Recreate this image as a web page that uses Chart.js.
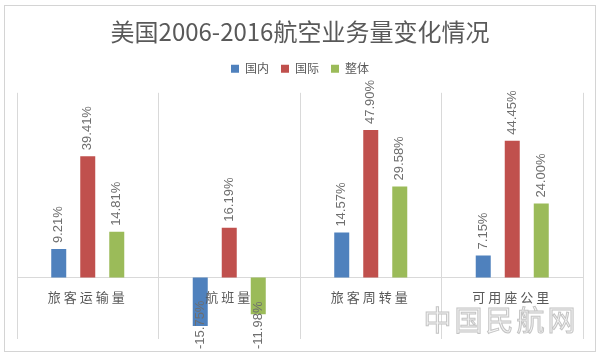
<!DOCTYPE html>
<html><head><meta charset="utf-8">
<script src="https://cdn.jsdelivr.net/npm/chart.js@4"></script>
<style>html,body{margin:0;padding:0;background:#fff}</style>
</head><body>
<canvas id="c" width="600" height="357" style="display:block;width:600px;height:357px"></canvas>
<script>
const TITLE = '美国2006-2016航空业务量变化情况';
const categories = ['旅客运输量', '航班量', '旅客周转量', '可用座公里'];
const seriesNames = ['国内', '国际', '整体'];
const domestic = [9.21, -15.75, 14.57, 7.15];
const international = [39.41, 16.19, 47.90, 44.45];
const overall = [14.81, -11.98, 29.58, 24.00];
const seriesColors = ['#4F81BD', '#C0504D', '#9BBB59'];
const WATERMARK = '中国民航网';

const seriesValues = [domestic, international, overall];

const helper = {
  id: 'helper',
  beforeDraw(chart) {
    const c = chart.ctx;
    c.save();
    c.fillStyle = '#ffffff';
    c.fillRect(0, 0, chart.width, chart.height);
    c.strokeStyle = '#d4d4d4';
    c.lineWidth = 1;
    c.strokeRect(4.5, 5.5, 591, 346);
    c.restore();
  },
  afterLayout(chart) {
    chart.legend.top -= 8;
    chart.legend.bottom -= 8;
  },
  afterDatasetsDraw(chart) {
    const c = chart.ctx;
    chart.data.datasets.forEach((ds, di) => {
      const meta = chart.getDatasetMeta(di);
      meta.data.forEach((bar, i) => {
        const v = ds.data[i];
        const txt = v.toFixed(2) + '%';
        c.save();
        c.font = '13px "Liberation Sans", Arial, sans-serif';
        c.fillStyle = '#6e6e6e';
        c.textBaseline = 'middle';
        c.textAlign = 'left';
        let y0;
        if (v >= 0) {
          y0 = bar.y - 6;
        } else {
          const w = c.measureText(txt).width;
          y0 = Math.min(bar.y + 6 + w, 349);
        }
        c.translate(bar.x, y0);
        c.rotate(-Math.PI / 2);
        c.fillText(txt, 0, 0);
        c.restore();
      });
    });
    c.letterSpacing = '3px';
  },
  afterDraw(chart) {
    const c = chart.ctx;
    c.letterSpacing = '0px';
    c.save();
    c.letterSpacing = '3px';
    c.font = '28px "Noto Sans CJK SC", sans-serif';
    c.textAlign = 'center';
    c.textBaseline = 'middle';
    c.fillStyle = 'rgba(244,244,244,0.9)';
    c.strokeStyle = '#c4c4c4';
    c.lineWidth = 1;
    c.fillText(WATERMARK, 501, 320);
    c.strokeText(WATERMARK, 501, 320);
    c.restore();
  }
};

new Chart(document.getElementById('c'), {
  type: 'bar',
  data: {
    labels: categories,
    datasets: seriesNames.map((name, k) => ({
      label: name,
      data: seriesValues[k],
      backgroundColor: seriesColors[k],
      borderWidth: 0,
      categoryPercentage: 0.615,
      barPercentage: 0.517
    }))
  },
  options: {
    responsive: false,
    animation: false,
    devicePixelRatio: 1,
    layout: { padding: { left: 17, right: 17, top: 0, bottom: 18 } },
    plugins: {
      title: {
        display: true,
        text: TITLE,
        color: '#595959',
        font: { size: 24, family: "'Noto Sans CJK SC', sans-serif", weight: 'normal', lineHeight: 1.2 },
        padding: { top: 17, bottom: 13 }
      },
      legend: {
        display: true,
        position: 'top',
        labels: {
          boxWidth: 8,
          boxHeight: 8,
          padding: 12,
          color: '#595959',
          font: { size: 12, family: "'Noto Sans CJK SC', sans-serif" }
        }
      },
      tooltip: { enabled: false }
    },
    scales: {
      x: {
        position: { y: 0 },
        grid: { color: '#d9d9d9', drawTicks: false, offset: true },
        border: { color: '#d9d9d9' },
        ticks: {
          color: '#595959',
          padding: 12,
          z: 1,
          maxRotation: 0,
          autoSkip: false,
          font: { size: 13, family: "'Noto Sans CJK SC', sans-serif" }
        }
      },
      y: { display: false, min: -20, max: 60 }
    }
  },
  plugins: [helper]
});
</script>
</body></html>
